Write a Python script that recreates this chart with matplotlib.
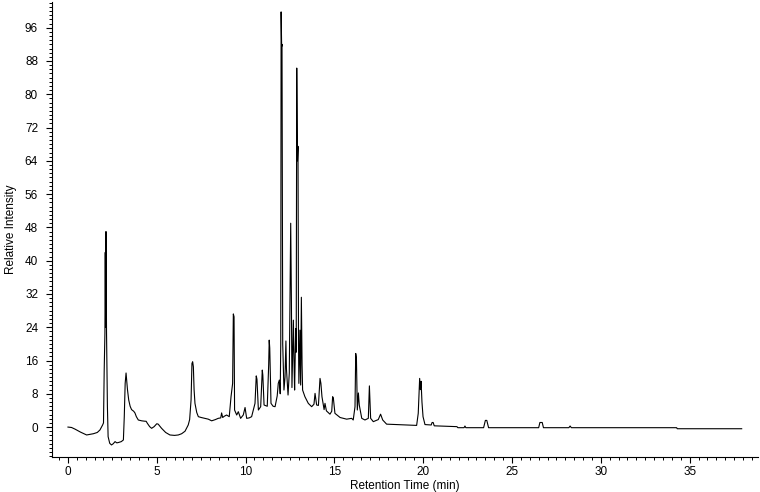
import numpy as np
import matplotlib
matplotlib.use('Agg')
import matplotlib.pyplot as plt
from matplotlib.ticker import MultipleLocator

plt.rcParams['font.family'] = ['Liberation Sans', 'DejaVu Sans']

# retention time (min) and relative intensity
rt = [0.00, 0.20, 0.40, 0.70, 1.05, 1.43, 1.65, 1.80, 1.95, 2.00,
      2.04, 2.08, 2.10, 2.12, 2.14, 2.17, 2.22, 2.26, 2.35, 2.45,
      2.55, 2.65, 2.75, 2.85, 3.00, 3.12, 3.17, 3.22, 3.27, 3.30,
      3.35, 3.42, 3.50, 3.58, 3.70, 3.77, 3.85, 3.96, 4.15, 4.34,
      4.40, 4.47, 4.60, 4.71, 4.85, 5.00, 5.08, 5.27, 5.50, 5.74,
      6.00, 6.21, 6.40, 6.59, 6.77, 6.85, 6.93, 6.98, 7.02, 7.06,
      7.10, 7.15, 7.25, 7.34, 7.50, 7.71, 7.90, 8.09, 8.30, 8.46,
      8.60, 8.65, 8.71, 8.80, 8.93, 9.08, 9.18, 9.27, 9.31, 9.35,
      9.38, 9.50, 9.59, 9.72, 9.87, 9.97, 10.06, 10.20, 10.34, 10.53,
      10.60, 10.64, 10.72, 10.85, 10.94, 10.97, 11.04, 11.22, 11.30, 11.33,
      11.36, 11.43, 11.55, 11.66, 11.78, 11.84, 11.90, 11.95, 11.98, 12.00,
      12.03, 12.05, 12.09, 12.16, 12.22, 12.27, 12.30, 12.39, 12.46, 12.54,
      12.58, 12.61, 12.69, 12.73, 12.76, 12.82, 12.85, 12.88, 12.92, 12.95,
      12.98, 13.00, 13.06, 13.10, 13.14, 13.18, 13.21, 13.34, 13.53, 13.72,
      13.85, 13.91, 13.96, 14.00, 14.10, 14.19, 14.24, 14.30, 14.42, 14.47,
      14.55, 14.75, 14.85, 14.90, 14.94, 15.03, 15.32, 15.69, 15.97, 16.06,
      16.16, 16.20, 16.24, 16.29, 16.35, 16.40, 16.54, 16.72, 16.91, 16.97,
      17.04, 17.19, 17.47, 17.60, 17.72, 17.94, 18.50, 19.07, 19.63, 19.72,
      19.80, 19.84, 19.88, 19.93, 19.99, 20.10, 20.45, 20.50, 20.56, 20.62,
      21.90, 21.95, 22.30, 22.35, 22.40, 23.40, 23.50, 23.58, 23.68, 26.50,
      26.57, 26.70, 26.77, 28.20, 28.27, 28.34, 34.27, 34.30, 37.93]

intensity = [0.0, -0.1, -0.5, -1.2, -1.9, -1.6, -1.3, -0.7, 0.5, 1.0,
             13.7, 22.6, 42.0, 24.0, 47.0, 23.0, 5.0, -2.3, -3.9, -4.3,
             -4.0, -3.5, -3.8, -3.7, -3.5, -3.1, 2.5, 10.5, 13.0, 11.5,
             9.0, 6.5, 5.0, 4.2, 3.8, 3.4, 2.5, 1.7, 1.5, 1.4,
             1.4, 0.9, 0.1, -0.3, 0.1, 0.8, 0.7, -0.3, -1.3, -1.9,
             -2.0, -1.9, -1.6, -1.0, 0.5, 1.8, 6.5, 15.3, 15.7, 14.5,
             9.0, 5.7, 3.5, 2.5, 2.3, 2.1, 1.9, 1.5, 1.8, 2.1,
             2.2, 3.4, 2.3, 2.6, 2.9, 2.5, 7.3, 10.5, 27.2, 26.5,
             4.1, 2.9, 3.7, 2.1, 2.9, 4.7, 2.1, 2.2, 2.5, 5.7,
             12.3, 11.5, 4.1, 4.9, 13.7, 12.5, 5.3, 5.0, 15.0, 20.9,
             19.0, 5.7, 5.0, 4.9, 7.5, 10.5, 11.3, 8.0, 20.0, 99.8,
             91.5, 92.0, 20.0, 8.9, 12.0, 20.7, 14.0, 7.7, 13.0, 49.0,
             30.0, 9.5, 25.7, 15.0, 8.9, 23.7, 18.0, 86.3, 64.0, 67.5,
             20.0, 10.5, 23.3, 10.1, 31.2, 15.0, 8.9, 7.3, 5.7, 4.9,
             5.5, 8.1, 6.5, 5.3, 5.2, 11.7, 10.5, 7.3, 4.2, 5.7,
             3.9, 3.1, 3.8, 7.3, 7.0, 3.3, 2.3, 1.9, 2.1, 1.7,
             4.9, 17.7, 16.5, 4.1, 8.2, 5.3, 2.1, 1.7, 2.1, 9.9,
             2.1, 1.3, 1.8, 3.1, 1.7, 0.7, 0.6, 0.5, 0.4, 3.3,
             11.7, 9.0, 11.0, 6.0, 2.5, 0.6, 0.5, 1.1, 1.1, 0.3,
             0.1, -0.15, -0.15, 0.25, -0.15, -0.15, 1.6, 1.6, -0.15, -0.15,
             1.1, 1.1, -0.15, -0.15, 0.25, -0.15, -0.15, -0.4, -0.4]

fig = plt.figure(figsize=(7.6, 4.92), dpi=100)
ax = fig.add_axes([0.0684, 0.0711, 0.9290, 0.9250])

ax.plot(rt, intensity, color='black', lw=0.8)

ax.set_xlim(-0.9, 38.85)
ax.set_ylim(-7.2, 102.2)

ax.set_yticks(np.arange(0, 97, 8))
ax.xaxis.set_major_locator(MultipleLocator(5))
ax.xaxis.set_minor_locator(MultipleLocator(0.5))
ax.yaxis.set_minor_locator(MultipleLocator(1))

ax.tick_params(axis='both', which='major', direction='out', length=4,
               width=0.8, labelsize=8.5)
ax.tick_params(axis='y', which='major', pad=6)
ax.tick_params(axis='x', which='major', pad=2.5)
ax.tick_params(axis='both', which='minor', direction='out', length=2.2,
               width=0.7)

for side in ['top', 'right']:
    ax.spines[side].set_visible(False)
for side in ['left', 'bottom']:
    ax.spines[side].set_linewidth(0.8)

ax.set_xlabel('Retention Time (min)', fontsize=8.5, labelpad=1.5)
ax.set_ylabel('Relative Intensity', fontsize=8.5, labelpad=6)

plt.savefig('out.png', dpi=100)
